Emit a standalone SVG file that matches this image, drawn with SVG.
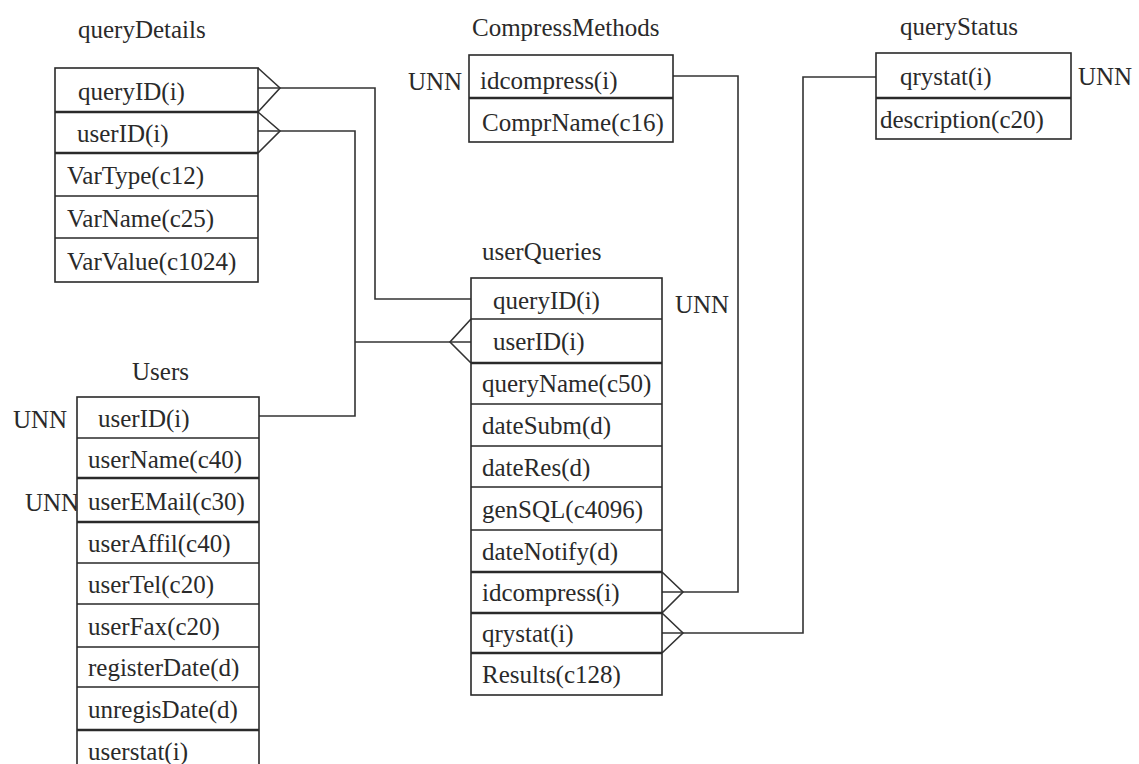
<svg xmlns="http://www.w3.org/2000/svg" width="1139" height="764" viewBox="0 0 1139 764">
  <style>
    text { font-family: "Liberation Serif", "Times New Roman", serif; font-size: 25px; fill: #2a2a2a; }
    .box { fill: #ffffff; stroke: #2a2a2a; stroke-width: 1.6; }
    .sep { stroke: #2a2a2a; stroke-width: 1.4; fill: none; }
    .thick { stroke: #2a2a2a; stroke-width: 2.6; fill: none; }
    .link { stroke: #333333; stroke-width: 1.6; fill: none; }
  </style>
  <rect width="1139" height="764" fill="#ffffff"/>

  <!-- connectors (lines and crow's feet) -->
  <g id="connectors">
    <!-- queryDetails.queryID -> userQueries.queryID -->
    <path class="link" d="M258,88 H375 V299 H471"/>
    <path class="link" d="M258,68 L280,88 L258,112"/>
    <!-- queryDetails.userID -> Users.userID -->
    <path class="link" d="M258,131 H355 V416 H259"/>
    <path class="link" d="M258,112 L280,131 L258,153"/>
    <!-- userQueries.userID -> Users.userID -->
    <path class="link" d="M355,342 H471"/>
    <path class="link" d="M471,319 L450,342 L471,363"/>
    <!-- userQueries.idcompress -> CompressMethods.idcompress -->
    <path class="link" d="M673,76 H738 V592 H662"/>
    <path class="link" d="M662,572 L683,592 L662,613"/>
    <!-- userQueries.qrystat -> queryStatus.qrystat -->
    <path class="link" d="M876,77 H803 V633 H662"/>
    <path class="link" d="M662,613 L683,633 L662,653"/>
  </g>

  <!-- queryDetails -->
  <g id="queryDetails">
    <text x="78" y="38">queryDetails</text>
    <rect class="box" x="55" y="68" width="203" height="214"/>
    <path class="thick" d="M55,112 H258"/>
    <path class="thick" d="M55,153 H258"/>
    <path class="sep" d="M55,196 H258 M55,238 H258"/>
    <text x="78" y="100">queryID(i)</text>
    <text x="77" y="142">userID(i)</text>
    <text x="67" y="184">VarType(c12)</text>
    <text x="67" y="227">VarName(c25)</text>
    <text x="67" y="270">VarValue(c1024)</text>
  </g>

  <!-- CompressMethods -->
  <g id="CompressMethods">
    <text x="472" y="36">CompressMethods</text>
    <text x="408" y="90">UNN</text>
    <rect class="box" x="469" y="55" width="204" height="87"/>
    <path class="thick" d="M469,98 H673"/>
    <text x="480" y="89">idcompress(i)</text>
    <text x="482" y="131">ComprName(c16)</text>
  </g>

  <!-- queryStatus -->
  <g id="queryStatus">
    <text x="900" y="35">queryStatus</text>
    <rect class="box" x="876" y="53" width="195" height="86"/>
    <path class="thick" d="M876,98 H1071"/>
    <text x="900" y="85">qrystat(i)</text>
    <text x="880" y="128">description(c20)</text>
    <text x="1078" y="85">UNN</text>
  </g>

  <!-- userQueries -->
  <g id="userQueries">
    <text x="482" y="260">userQueries</text>
    <rect class="box" x="471" y="278" width="191" height="417"/>
    <path class="sep" d="M471,319 H662"/>
    <path class="thick" d="M471,363 H662"/>
    <path class="sep" d="M471,404 H662 M471,446 H662 M471,487 H662 M471,530 H662"/>
    <path class="thick" d="M471,572 H662 M471,613 H662 M471,653 H662"/>
    <text x="493" y="309">queryID(i)</text>
    <text x="493" y="350">userID(i)</text>
    <text x="482" y="392">queryName(c50)</text>
    <text x="482" y="434">dateSubm(d)</text>
    <text x="482" y="476">dateRes(d)</text>
    <text x="482" y="518">genSQL(c4096)</text>
    <text x="482" y="560">dateNotify(d)</text>
    <text x="482" y="601">idcompress(i)</text>
    <text x="482" y="642">qrystat(i)</text>
    <text x="482" y="683">Results(c128)</text>
    <text x="675" y="313">UNN</text>
  </g>

  <!-- Users -->
  <g id="Users">
    <text x="132" y="380">Users</text>
    <text x="13" y="428">UNN</text>
    <text x="25" y="511">UNN</text>
    <rect class="box" x="77" y="397" width="182" height="380"/>
    <path class="sep" d="M77,438 H259"/>
    <path class="thick" d="M77,478 H259 M77,522 H259"/>
    <path class="sep" d="M77,563 H259 M77,604 H259 M77,647 H259 M77,687 H259"/>
    <path class="thick" d="M77,730 H259"/>
    <text x="98" y="427">userID(i)</text>
    <text x="88" y="468">userName(c40)</text>
    <text x="88" y="510">userEMail(c30)</text>
    <text x="88" y="552">userAffil(c40)</text>
    <text x="88" y="593">userTel(c20)</text>
    <text x="88" y="635">userFax(c20)</text>
    <text x="88" y="676">registerDate(d)</text>
    <text x="88" y="718">unregisDate(d)</text>
    <text x="88" y="760">userstat(i)</text>
  </g>
</svg>
